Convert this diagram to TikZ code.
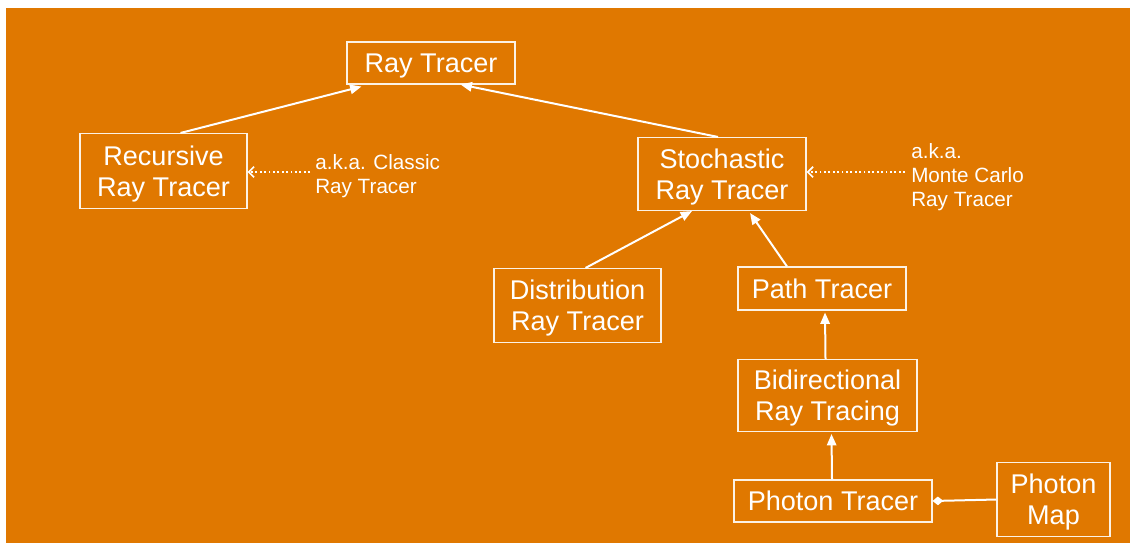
\documentclass[tikz,border=0pt]{standalone}
\usepackage{fontspec}
\setmainfont{Liberation Sans}
\usepackage{xcolor}
\usepackage{tikz}
\usetikzlibrary{positioning,arrows.meta,calc}

\definecolor{bgorange}{RGB}{224,120,0}

\begin{document}
\begin{tikzpicture}[
    x=0.75pt, y=-0.75pt,
    box/.style={rectangle, draw=white!90!bgorange, line width=0.8pt, text=white, align=center, inner sep=0pt, text depth=0pt, font=\fontsize{20.3}{23.5}\selectfont},
    note/.style={anchor=west, align=left, text=white, inner sep=0pt, font=\fontsize{15.5}{18}\selectfont},
    arrow/.style={-{Triangle[length=8.5pt, width=7pt]}, white, line width=1.5pt},
    aka/.style={-{Straight Barb[length=4pt, width=8pt]}, white, line width=1.3pt, dotted},
    owns/.style={-{Diamond[length=8pt, width=6.5pt]}, white, line width=1.5pt}
]

% Background
\useasboundingbox (0,0) rectangle (1130,543);
\fill[bgorange] (6,8) rectangle (1130,543);

% Ray tracer family
\node[box, minimum width=126pt, minimum height=31.5pt] (rt) at (431,63) {Ray Tracer};
\node[box, minimum width=125.25pt, minimum height=56.25pt] (rec) at (163.5,171) {Recursive\\Ray Tracer};
\node[box, minimum width=126pt, minimum height=54.75pt] (sto) at (722,174) {Stochastic\\Ray Tracer};

% Stochastic variants
\node[box, minimum width=125.25pt, minimum height=55.5pt] (dist) at (577.5,305.5) {Distribution\\Ray Tracer};
\node[box, minimum width=126pt, minimum height=32.25pt] (pth) at (822,288.5) {Path Tracer};
\node[box, minimum width=134.25pt, minimum height=54pt] (bid) at (827.5,395.5) {Bidirectional\\Ray Tracing};
\node[box, minimum width=148.5pt, minimum height=31.5pt] (ptr) at (833,501) {Photon Tracer};
\node[box, minimum width=84.75pt, minimum height=55.5pt] (pmap) at (1053.5,499.5) {Photon\\Map};

% Annotations
\node[note] (classic) at (315,176) {a.k.a. Classic\\Ray Tracer};
\node[note] (monte) at (911,177) {a.k.a.\\Monte Carlo\\Ray Tracer};

% Arrows
\draw[arrow] ($(rec.north)+(17,0)$) -- ($(rt.south west)+(15,2)$);
\draw[arrow] ($(sto.north)+(-4,0)$) -- ($(rt.south east)+(-55,0)$);
\draw[arrow] ($(dist.north)+(8,0)$) -- ($(sto.south)+(-30,0)$);
\draw[arrow] ($(pth.north)+(-35,0)$) -- ($(sto.south)+(28,2)$);
\draw[arrow] ($(bid.north)+(-2,0)$) -- ($(pth.south)+(3,2)$);
\draw[arrow] ($(ptr.north)+(-1,0)$) -- ($(bid.south)+(4,2)$);
\draw[owns] (pmap.west) -- (ptr.east);

% a.k.a. pointers
\draw[aka] ($(classic.west)+(-5,-4)$) -- (rec.east |- {$(classic.west)+(0,-4)$});
\draw[aka] ($(monte.west)+(-6,-5)$) -- (sto.east |- {$(monte.west)+(0,-5)$});

\end{tikzpicture}
\end{document}
